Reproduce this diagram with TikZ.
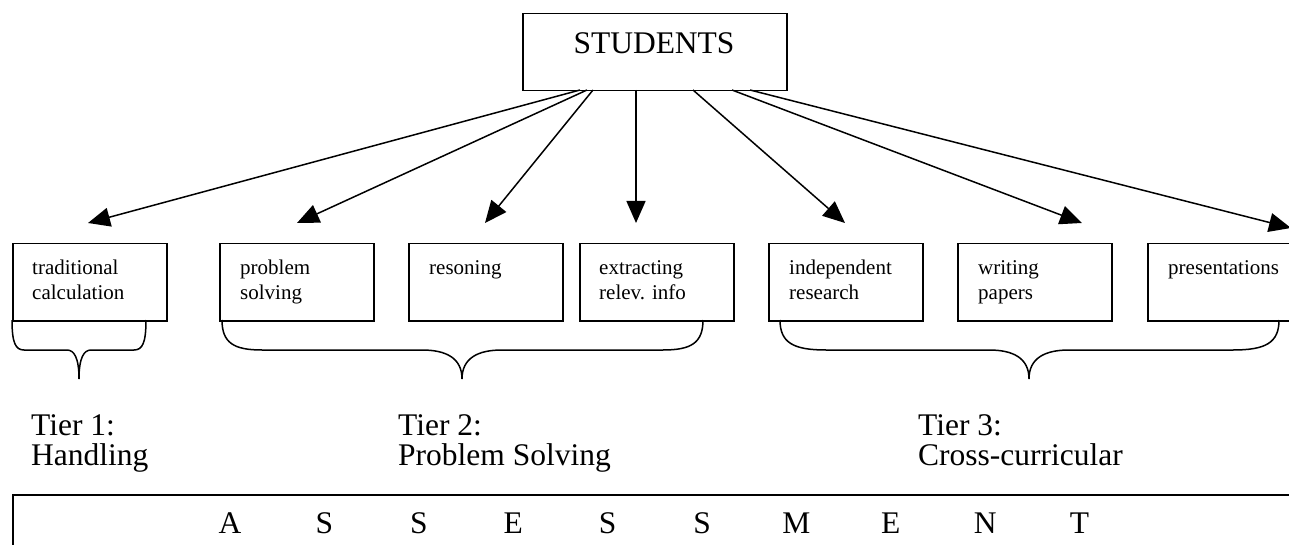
\documentclass[tikz,border=0pt]{standalone}
\usepackage{fontspec}
\setmainfont{Liberation Serif}
\usetikzlibrary{arrows.meta}
\newcommand\wbrace[5]{%
  \draw[brc] (#1,320) .. controls (#1,343) and ({#1+0.3*#4},350) .. ({#1+#4},350)
    -- ({#2-#5},350) .. controls ({#2-0.4*#5},350) and (#2,358) .. (#2,379)
    .. controls (#2,358) and ({#2+0.4*#5},350) .. ({#2+#5},350)
    -- ({#3-#4},350) .. controls ({#3-0.3*#4},350) and (#3,343) .. (#3,320);}
\begin{document}
\begin{tikzpicture}[x=1pt,y=-1pt,
  box/.style={draw, line width=1.5pt, minimum width=154pt, minimum height=77pt, anchor=north west, inner sep=0pt},
  boxtxt/.style={font=\fontsize{21}{25}\selectfont, anchor=base west, inner sep=0pt},
  tiertxt/.style={font=\fontsize{31.5}{29}\selectfont, anchor=base west, inner sep=0pt},
  lett/.style={font=\fontsize{31.5}{36}\selectfont, anchor=base, inner sep=0pt},
  arr/.style={-{Triangle[length=22pt,width=19pt]}, line width=1.5pt},
  brc/.style={line width=1.5pt}]
\useasboundingbox (0,0) rectangle (1289,545);
\clip (0,0) rectangle (1289,545);
\fill[white] (0,0) rectangle (1289,545);

% top node
\node[draw, line width=1.5pt, anchor=north west, minimum width=264pt, minimum height=77pt, inner sep=0pt] (stu) at (522,13) {};
\node[font=\fontsize{31.5}{36}\selectfont, anchor=base, inner sep=0pt] (stutxt) at (654,54) {STUDENTS};

% boxes
\node[box] (trad) at (12,243) {};
\node[box] (prob) at (219,243) {};
\node[box] (reas) at (408,243) {};
\node[box] (extr) at (579,243) {};
\node[box] (inde) at (768,243) {};
\node[box] (writ) at (957,243) {};
\node[box] (pres) at (1147,243) {};

\node[boxtxt] (tradt) at (32,274) {\begin{tabular}[t]{@{}l@{}}traditional\\calculation\end{tabular}};
\node[boxtxt] (probt) at (240,274) {\begin{tabular}[t]{@{}l@{}}problem\\solving\end{tabular}};
\node[boxtxt] (reast) at (429,274) {resoning};
\node[boxtxt] (extrt) at (599,274) {\begin{tabular}[t]{@{}l@{}}extracting\\relev. info\end{tabular}};
\node[boxtxt] (indet) at (789,274) {\begin{tabular}[t]{@{}l@{}}independent\\research\end{tabular}};
\node[boxtxt] (writt) at (978,274) {\begin{tabular}[t]{@{}l@{}}writing\\papers\end{tabular}};
\node[boxtxt] (prest) at (1168,274) {presentations};

% arrow ends
\coordinate (s1) at (580,90);
\coordinate (s2) at (587,90);
\coordinate (s3) at (593,90);
\coordinate (s4) at (636,90);
\coordinate (s5) at (693,90);
\coordinate (s6) at (732,90);
\coordinate (s7) at (750,90);
\coordinate (e1) at (88,223);
\coordinate (e2) at (297,223);
\coordinate (e3) at (485,223);
\coordinate (e4) at (636,223);
\coordinate (e5) at (845,223);
\coordinate (e6) at (1082,223);
\coordinate (e7) at (1291,228);
\draw[arr] (s1) -- (e1);
\draw[arr] (s2) -- (e2);
\draw[arr] (s3) -- (e3);
\draw[arr] (s4) -- (e4);
\draw[arr] (s5) -- (e5);
\draw[arr] (s6) -- (e6);
\draw[arr] (s7) -- (e7);

% braces
\wbrace{12}{79}{146}{12}{12}
\wbrace{222}{462}{703}{40}{40}
\wbrace{780}{1029}{1279}{46}{40}

% tier labels
\node[tiertxt] (t1) at (31,435) {\begin{tabular}[t]{@{}l@{}}Tier 1:\\Handling\end{tabular}};
\node[tiertxt] (t2) at (398,435) {\begin{tabular}[t]{@{}l@{}}Tier 2:\\Problem Solving\end{tabular}};
\node[tiertxt] (t3) at (918,435) {\begin{tabular}[t]{@{}l@{}}Tier 3:\\Cross-curricular\end{tabular}};

% assessment
\node[draw, line width=1.5pt, anchor=north west, minimum width=1320pt, minimum height=100pt, inner sep=0pt] (ass) at (12,494) {};
\foreach \l [count=\i from 0] in {A,S,S,E,S,S,M,E,N,T} {
  \node[lett] (L\i) at ({230+94.4*\i},533) {\l};
}
\end{tikzpicture}
\end{document}
